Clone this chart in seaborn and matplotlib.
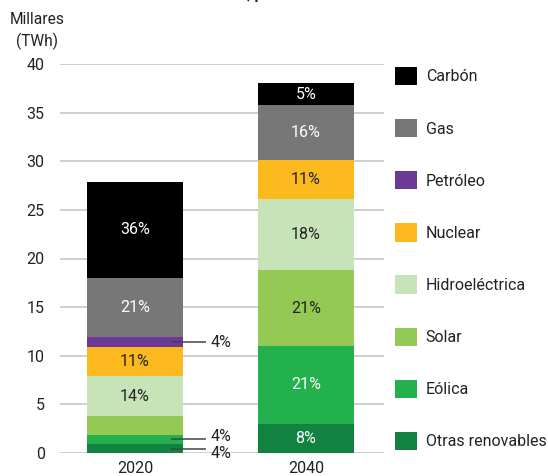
import matplotlib
matplotlib.use("Agg")
import matplotlib.pyplot as plt
import seaborn as sns
import pandas as pd
import numpy as np
from matplotlib.patches import Patch

# ---- data ----
years = ["2020", "2040"]
sources = ["Otras renovables", "Eólica", "Solar", "Hidroeléctrica",
           "Nuclear", "Petróleo", "Gas", "Carbón"]
otras = [0.9, 3.0]
eolica = [1.0, 8.0]
solar = [1.9, 7.8]
hidro = [4.1, 7.3]
nuclear = [3.0, 4.0]
petroleo = [1.0, 0.0]
gas = [6.1, 5.7]
carbon = [9.9, 2.2]
pct_2020 = ["4%", "4%", "", "14%", "11%", "4%", "21%", "36%"]
pct_2040 = ["8%", "21%", "21%", "18%", "11%", "", "16%", "5%"]
yticks = [0, 5, 10, 15, 20, 25, 30, 35, 40]

colors = {"Carbón": "#000000", "Gas": "#777777", "Petróleo": "#6c3a96",
          "Nuclear": "#fcb91e", "Hidroeléctrica": "#c7e3b8",
          "Solar": "#95c955", "Eólica": "#22b14c", "Otras renovables": "#11823f"}
white_text = {"Carbón", "Gas", "Eólica", "Otras renovables"}

values = [otras, eolica, solar, hidro, nuclear, petroleo, gas, carbon]
df = pd.DataFrame({"year": years})
for s, v in zip(sources, values):
    df[s] = v
cum = df[sources].cumsum(axis=1)

sns.set_theme(style="white")
plt.rcParams["font.family"] = ["Roboto", "DejaVu Sans"]

FS = 11.5
fig = plt.figure(figsize=(5.48, 4.76), dpi=100)
ax = fig.add_axes([60/548, 1-453/476, 324/548, (453-64)/476])

bw = 0.562
# draw layered cumulative bars, top-most first
for s in reversed(sources):
    sns.barplot(x=df["year"], y=cum[s], color=colors[s], width=bw,
                saturation=1, ax=ax, linewidth=0, zorder=3)

ax.set_xlim(-0.439, 1.457)
ax.set_ylim(0, 40)
ax.set_yticks(yticks)
ax.set_yticklabels([str(t) for t in yticks], fontsize=FS, color="#222222")
ax.tick_params(axis="x", labelsize=FS, colors="#222222", length=0, pad=6)
ax.tick_params(axis="y", length=0, pad=11)
for lab in ax.get_yticklabels():
    lab.set_horizontalalignment("right")
ax.set_xlabel("")
ax.set_ylabel("")
for sp in ax.spines.values():
    sp.set_visible(False)
ax.yaxis.grid(True, color="#c6c6c6", linewidth=1.2, zorder=0)
ax.set_axisbelow(True)

# percentage labels
for i, labels in enumerate([pct_2020, pct_2040]):
    bottoms = np.concatenate([[0], cum.iloc[i].values[:-1]])
    for j, s in enumerate(sources):
        h = values[j][i]
        lab = labels[j]
        if not lab:
            continue
        mid = bottoms[j] + h / 2
        if h >= 2:
            ax.text(i, mid, lab, ha="center", va="center", fontsize=FS,
                    color="white" if s in white_text else "#222222", zorder=5)
        else:
            dy = {"Petróleo": 0.0, "Eólica": 0.25, "Otras renovables": -0.55}[s]
            ax.plot([0.211, 0.415], [mid, mid], color="#444444", lw=1.1,
                    zorder=6, solid_capstyle="butt")
            ax.text(0.44, mid + dy, lab, ha="left", va="center",
                    fontsize=FS, color="#222222", zorder=6)

# y label
fig.text(37/548, 1-12/476, "Millares\n(TWh)", ha="center", va="top",
         fontsize=11.2, color="#222222", linespacing=1.4)

# cut-off title
fig.text(4/548, 1+1/476, "Generación mundial de electricidad, por fuente",
         ha="left", va="baseline", fontsize=11, fontweight="bold",
         color="#222222")

# legend
handles = [Patch(facecolor=colors[s], edgecolor="none", label=s)
           for s in reversed(sources)]
fig.legend(handles=handles, loc="upper left",
           bbox_to_anchor=(395/548, 1-67/476), bbox_transform=fig.transFigure,
           frameon=False, fontsize=FS, handlelength=1.38, handleheight=1.38,
           handletextpad=0.55, labelspacing=2.12, borderpad=0,
           borderaxespad=0, labelcolor="#222222")

fig.savefig("out.png", dpi=100)
